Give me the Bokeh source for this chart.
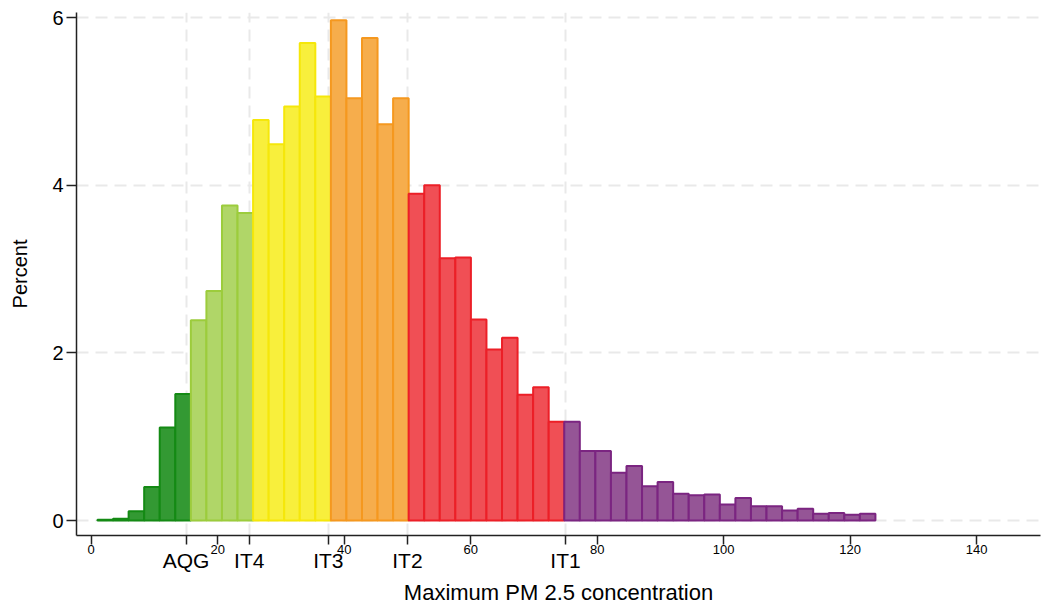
from bokeh.plotting import figure
from bokeh.models import ColumnDataSource, FixedTicker, LinearAxis, Range1d
from bokeh.embed import file_html
from bokeh.resources import INLINE

# Histogram of the daily maximum PM 2.5 concentration (percent of observations per bin)
bin_start = 1.0
bin_width = 2.46
percent = [
    0.01, 0.02, 0.11, 0.40, 1.11, 1.51,            # below AQG
    2.39, 2.74, 3.76, 3.67,                        # AQG - IT4
    4.78, 4.49, 4.94, 5.70, 5.06,                  # IT4 - IT3
    5.97, 5.04, 5.76, 4.73, 5.04,                  # IT3 - IT2
    3.90, 4.00, 3.13, 3.14, 2.40, 2.04, 2.18, 1.50, 1.59, 1.18,   # IT2 - IT1
    1.18, 0.83, 0.83, 0.57, 0.65, 0.41, 0.46, 0.32, 0.30, 0.31,   # above IT1
    0.19, 0.27, 0.17, 0.17, 0.12, 0.14, 0.08, 0.09, 0.07, 0.08,
]

# WHO 24-hour PM 2.5 guideline levels
threshold_values = [15, 25, 37.5, 50, 75]
threshold_labels = ["AQG", "IT4", "IT3", "IT2", "IT1"]
x_ticks = [0, 20, 40, 60, 80, 100, 120, 140]
y_ticks = [0, 2, 4, 6]

# band colours: below AQG, AQG-IT4, IT4-IT3, IT3-IT2, IT2-IT1, above IT1
band_fill = ["#339933", "#b0d668", "#f8ef3c", "#f6ad4c", "#f04f55", "#955596"]
band_line = ["#148a14", "#9ccc3c", "#f5e70a", "#f5981f", "#ec1f27", "#7b2581"]

left = [bin_start + i * bin_width for i in range(len(percent))]
right = [l + bin_width for l in left]


def band_of(mid):
    return sum(1 for t in threshold_values if mid >= t)


bands = [band_of((l + r) / 2) for l, r in zip(left, right)]
source = ColumnDataSource(dict(
    left=left, right=right, top=percent,
    fill=[band_fill[b] for b in bands],
    line=[band_line[b] for b in bands],
))

FONT = "Liberation Sans"

p = figure(
    width=1044, height=607,
    x_range=Range1d(-2.32, 150.1), y_range=Range1d(-0.179, 6.063),
    output_backend="svg", toolbar_location=None,
    min_border_left=76, min_border_right=4, min_border_top=12, min_border_bottom=71,
)
p.outline_line_color = None
p.background_fill_color = "white"
p.border_fill_color = "white"

p.quad(left="left", right="right", top="top", bottom=0, source=source,
       fill_color="fill", line_color="line", line_width=2)

# grid: horizontal at the percent ticks, vertical at the guideline levels
p.ygrid.ticker = FixedTicker(ticks=y_ticks)
p.xgrid.ticker = FixedTicker(ticks=threshold_values)
for g in (p.xgrid[0], p.ygrid[0]):
    g.grid_line_color = "#e9e9e9"
    g.grid_line_width = 2
    g.grid_line_dash = "12 7"

# numeric x axis (ticks also marked at the guideline levels)
xa = p.xaxis[0]
xa.ticker = FixedTicker(ticks=x_ticks + threshold_values)
xa.major_label_overrides = {t: "" for t in threshold_values}
xa.major_tick_out = 9
xa.major_tick_in = 0
xa.minor_tick_out = 0
xa.minor_tick_in = 0
xa.major_label_standoff = 0
xa.major_label_text_font = FONT
xa.major_label_text_font_size = "13px"
xa.major_label_text_color = "black"
xa.axis_line_color = "#222222"
xa.axis_line_width = 1.5
xa.major_tick_line_color = "#222222"
xa.major_tick_line_width = 1.5

# guideline names beneath the numbers
ta = LinearAxis(
    ticker=FixedTicker(ticks=threshold_values),
    major_label_overrides=dict(zip(threshold_values, threshold_labels)),
    axis_label="Maximum PM 2.5 concentration",
)
ta.axis_line_color = None
ta.major_tick_out = 0
ta.major_tick_in = 0
ta.minor_tick_out = 0
ta.minor_tick_in = 0
ta.major_label_standoff = -8
ta.major_label_text_font = FONT
ta.major_label_text_font_size = "21px"
ta.major_label_text_color = "black"
ta.axis_label_standoff = 5
ta.axis_label_text_font = FONT
ta.axis_label_text_font_size = "22px"
ta.axis_label_text_font_style = "normal"
ta.axis_label_text_color = "black"
p.add_layout(ta, "below")

ya = p.yaxis[0]
ya.ticker = FixedTicker(ticks=y_ticks)
ya.major_tick_out = 10
ya.major_tick_in = 0
ya.minor_tick_out = 0
ya.minor_tick_in = 0
ya.major_label_standoff = 3
ya.major_label_text_font = FONT
ya.major_label_text_font_size = "20px"
ya.major_label_text_color = "black"
ya.axis_line_color = "#222222"
ya.axis_line_width = 1.5
ya.major_tick_line_color = "#222222"
ya.major_tick_line_width = 1.5
ya.axis_label = "Percent"
ya.axis_label_standoff = 18
ya.axis_label_text_font = FONT
ya.axis_label_text_font_size = "20px"
ya.axis_label_text_font_style = "normal"
ya.axis_label_text_color = "black"

open("out.html", "w").write(file_html(p, INLINE))
